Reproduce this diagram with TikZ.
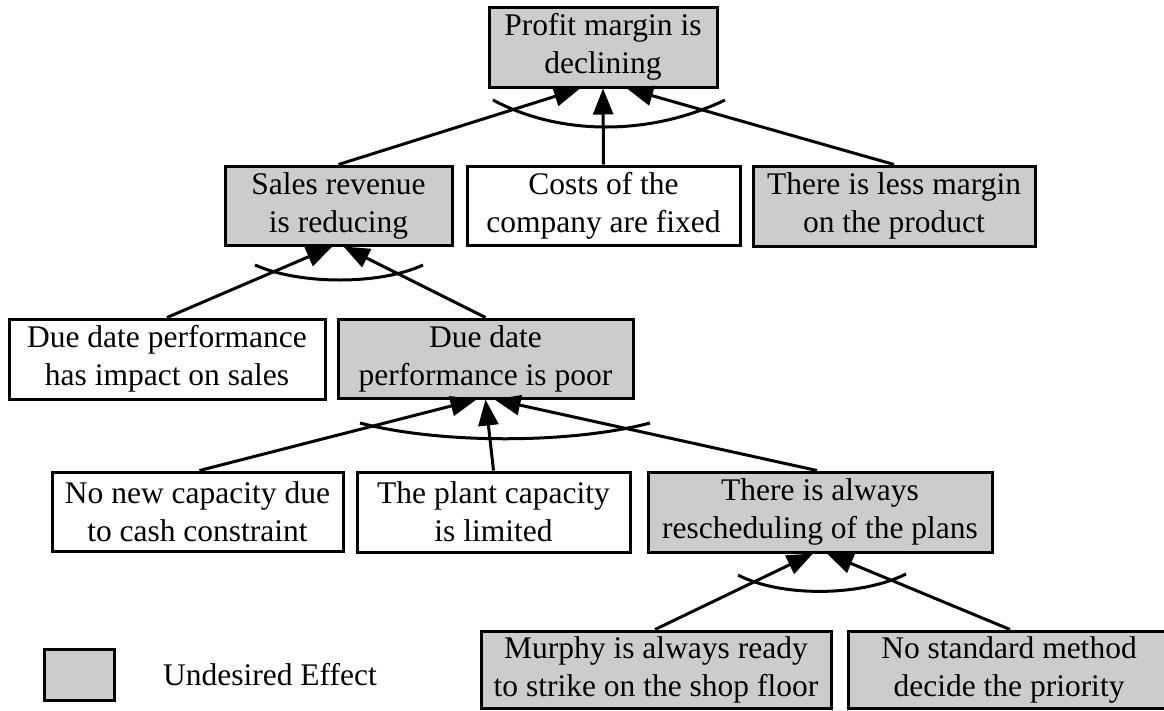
\documentclass[tikz,border=0pt]{standalone}
\usepackage{fontspec}
\setmainfont{Liberation Serif}
\usetikzlibrary{arrows.meta}
\definecolor{uefill}{gray}{0.8}
\begin{document}
\begin{tikzpicture}[x=1pt,y=-1pt,
  box/.style={draw, line width=3pt, align=center, inner sep=0pt,
    font=\fontsize{31.5}{38}\selectfont},
  ue/.style={box, fill=uefill},
  arr/.style={line width=3pt, -{Triangle[length=26pt,width=20pt]}},
  andarc/.style={line width=3pt}]
\useasboundingbox (0,0) rectangle (1164,710);
% nodes
\node[ue, minimum width=228pt, minimum height=80pt] (pm) at (603,47) {Profit margin is\\declining};
\node[ue, minimum width=227pt, minimum height=79pt] (sr) at (338.5,205.5) {Sales revenue\\is reducing};
\node[box, minimum width=273pt, minimum height=79pt] (cf) at (603.5,205.5) {Costs of the\\company are fixed};
\node[ue, minimum width=282pt, minimum height=80pt] (lm) at (894,206) {There is less margin\\on the product};
\node[box, minimum width=316pt, minimum height=80pt] (im) at (167,359) {Due date performance\\has impact on sales};
\node[ue, minimum width=295pt, minimum height=79pt] (dp) at (485.5,358.5) {Due date\\performance is poor};
\node[box, minimum width=291pt, minimum height=79pt] (nc) at (197.5,511.5) {No new capacity due\\to cash constraint};
\node[box, minimum width=273pt, minimum height=80pt] (pc) at (493.5,512) {The plant capacity\\is limited};
\node[ue, minimum width=344pt, minimum height=80pt] (rs) at (820,512) {There is always\\rescheduling of the plans};
\node[ue, minimum width=350pt, minimum height=77pt] (mu) at (656,669.5) {Murphy is always ready\\to strike on the shop floor};
\node[ue, minimum width=322pt, minimum height=77pt] (ns) at (1009,669.5) {No standard method\\decide the priority};
\node[ue, minimum width=70pt, minimum height=51pt] (lg) at (79,674.5) {};
\node[font=\fontsize{31.5}{38}\selectfont, inner sep=0pt] (lgt) at (270,675) {Undesired Effect};
% connectors
\draw[arr] (sr.north) -- ([xshift=-23pt]pm.south);
\draw[arr] (cf.north) -- (pm.south);
\draw[arr] (lm.north) -- ([xshift=24pt]pm.south);
\draw[arr] (im.north) -- ([xshift=-6pt]sr.south);
\draw[arr] (dp.north) -- ([xshift=5pt]sr.south);
\draw[arr] ([xshift=2pt]nc.north) -- ([xshift=-9pt]dp.south);
\draw[arr] (pc.north) -- (dp.south);
\draw[arr] ([xshift=-3pt]rs.north) -- ([xshift=9pt]dp.south);
\draw[arr] ([xshift=-1pt]mu.north) -- ([xshift=-7pt]rs.south);
\draw[arr] ([xshift=1pt]ns.north) -- ([xshift=7pt]rs.south);
% "and" arcs
\draw[andarc] (493,100) .. controls (560,136) and (650,136) .. (725,100);
\draw[andarc] (255,265) .. controls (300,285) and (380,285) .. (423,265);
\draw[andarc] (360,423) .. controls (440,444) and (570,444) .. (650,423);
\draw[andarc] (738,575) .. controls (780,597) and (860,597) .. (906,574);
\end{tikzpicture}
\end{document}
